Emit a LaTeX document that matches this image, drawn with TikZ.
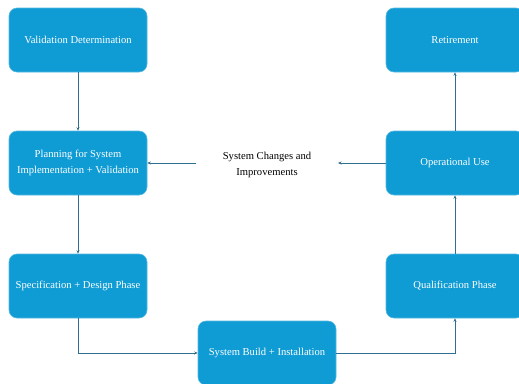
\documentclass[tikz,border=0pt]{standalone}
\usepackage{fontspec}
\setmainfont{Liberation Serif}
\usetikzlibrary{arrows.meta}
\definecolor{boxblue}{HTML}{0F9BD4}
\definecolor{linecol}{HTML}{2F6F8F}
\begin{document}
\begin{tikzpicture}[x=1pt,y=-1pt,
  phase/.style={draw=boxblue!70!white, line width=0.6pt, fill=boxblue, rounded corners=8pt,
    minimum width=138pt, minimum height=64pt, text=white, font=\fontsize{10.6}{16}\selectfont,
    align=center, inner sep=2pt},
  conn/.style={draw=linecol, line width=0.7pt, -{Stealth[length=3.5pt,width=3pt]}}]
\useasboundingbox (0,0) rectangle (519,383);
\clip (0,0) rectangle (519,383);
\node[phase] (vd) at (78,40) {Validation Determination};
\node[phase] (pl) at (78,163) {Planning for System\\Implementation + Validation};
\node[phase] (sd) at (78,286) {Specification + Design Phase};
\node[phase] (sb) at (267,353) {System Build + Installation};
\node[phase] (qp) at (455,286) {Qualification Phase};
\node[phase] (ou) at (455,163) {Operational Use};
\node[phase] (rt) at (455,40) {Retirement};
\node[align=center, font=\fontsize{10.6}{16}\selectfont, inner sep=0pt] (sc) at (267,165) {System Changes and\\Improvements};
\coordinate (scl) at (196,163);
\coordinate (scr) at (338,163);
\draw[conn] (vd) -- (pl);
\draw[conn] (pl) -- (sd);
\draw[conn] (sd.south) |- (sb.west);
\draw[conn] (sb.east) -| (qp.south);
\draw[conn] (qp) -- (ou);
\draw[conn] (ou) -- (rt);
\draw[conn] (ou.west) -- (scr);
\draw[conn] (scl) -- (pl.east);
\end{tikzpicture}
\end{document}
